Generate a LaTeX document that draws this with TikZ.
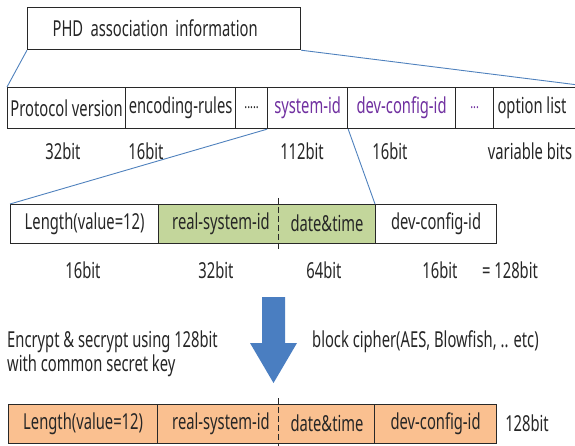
\documentclass[tikz,border=0pt]{standalone}
\usepackage{fontspec}
\setmainfont[FakeStretch=0.67]{Noto Sans}
\usetikzlibrary{calc}
\definecolor{purp}{RGB}{112,48,160}
\definecolor{grn}{RGB}{195,214,155}
\definecolor{org}{RGB}{250,192,144}
\definecolor{lnblue}{RGB}{79,129,189}
\definecolor{arrblue}{RGB}{74,126,193}
\definecolor{bord}{RGB}{40,40,40}
\begin{document}
\begin{tikzpicture}[x=1pt,y=-1pt,
  every node/.style={font=\fontsize{22}{25}\selectfont, inner sep=0pt, text=black!85},
  cell/.style={draw=bord, line width=1.2pt, anchor=north west, minimum width=#1},
  rowA/.style={minimum height=41pt},
  rowB/.style={minimum height=39pt},
  conn/.style={draw=lnblue, line width=0.9pt},
  sep/.style={draw=bord, line width=1pt, dash pattern=on 6pt off 3pt},
  lbl/.style={anchor=center},
  dots/.style={font=\fontsize{16}{18}\selectfont}]
\useasboundingbox (0,0) rectangle (575,446);

% top box
\node[cell=273pt, minimum height=42pt, text width=223pt, align=left] (phd) at (27,7) {PHD association information};

% row 1
\node[cell=118pt, rowA] (pv) at (7,87) {Protocol version};
\node[cell=110pt, rowA] (er) at (125,87) {encoding-rules};
\node[cell=32pt, rowA, dots] (d1) at (235,87) {.....};
\node[cell=80pt, rowA, text=purp] (sid) at (267,87) {system-id};
\node[cell=108pt, rowA, text=purp] (dcid) at (347,87) {dev-config-id};
\node[cell=38pt, rowA, dots, text=purp] (d2) at (455,87) {...};
\node[cell=100pt, rowA] (opt) at (493,87) {};
\node[lbl] (optt) at (532,107.5) {option list};

% bits row 1
\node[lbl] (b11) at (63,151) {32bit};
\node[lbl] (b12) at (146,151) {16bit};
\node[lbl] (b13) at (302,151) {112bit};
\node[lbl] (b14) at (390,151) {16bit};
\node[lbl] (b15) at (530,151) {variable bits};

% row 2
\node[cell=148pt, rowB] (len2) at (10,204) {Length(value=12)};
\node[cell=217pt, rowB, fill=grn] (grp2) at (158,204) {};
\node[lbl] (rs2) at (221,223.5) {real-system-id};
\node[lbl] (dt2) at (327,223.5) {date\&time};
\node[cell=121pt, rowB] (dc2) at (375,204) {dev-config-id};
\coordinate (s2a) at (278,198);
\coordinate (s2b) at (278,249);
\draw[sep] (s2a) -- (s2b);

% bits row 2
\node[lbl] (b21) at (83,270) {16bit};
\node[lbl] (b22) at (216,270) {32bit};
\node[lbl] (b23) at (324,270) {64bit};
\node[lbl] (b24) at (440,270) {16bit};
\node[lbl] (b25) at (510,270) {= 128bit};

% arrow
\fill[arrblue] (262,297) -- (285,297) -- (285,343) -- (297,343) -- (273.5,383) -- (250,343) -- (262,343) -- cycle;

% texts
\node[anchor=west] (enc1) at (7,342) {Encrypt \& secrypt using 128bit};
\node[anchor=west] (enc2) at (7,366) {with common secret key};
\node[anchor=west] (blk) at (312,342) {block cipher(AES, Blowfish, .. etc)};

% row 3
\node[cell=149pt, rowB, fill=org] (len3) at (8,404) {Length(value=12)};
\node[cell=217pt, rowB, fill=org] (grp3) at (157,404) {};
\node[lbl] (rs3) at (221,423.5) {real-system-id};
\node[lbl] (dt3) at (327,423.5) {date\&time};
\node[cell=122pt, rowB, fill=org] (dc3) at (374,404) {dev-config-id};
\coordinate (s3a) at (278,398);
\coordinate (s3b) at (278,446);
\draw[sep] (s3a) -- (s3b);
\node[lbl] (b31) at (527,423.5) {128bit};

% connectors
\draw[conn] (phd.south west) -- (pv.north west);
\draw[conn] (phd.south east) -- (opt.north east);
\draw[conn] (sid.south west) -- (len2.north west);
\draw[conn] (sid.south east) -- (dc2.north west);
\end{tikzpicture}
\end{document}
